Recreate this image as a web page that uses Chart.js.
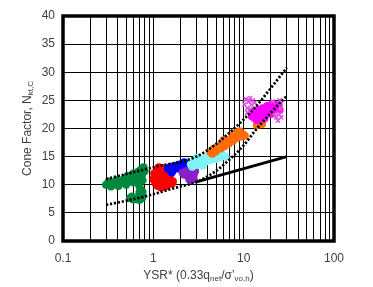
<!DOCTYPE html>
<html>
<head>
<meta charset="utf-8">
<script src="https://cdn.jsdelivr.net/npm/chart.js@4/dist/chart.umd.min.js"></script>
<style>
  html, body { margin: 0; padding: 0; background: #fff; }
  canvas { display: block; }
</style>
</head>
<body>
<canvas id="coneChart" width="373" height="287"></canvas>
<script>
// tick labels
const xLabels = [0.1, 1, 10, 100];
const yTicks = [0, 5, 10, 15, 20, 25, 30, 35, 40];

// trend lines
const upperX = [0.3, 1, 3, 5, 7.6, 10, 14, 20, 30];
const upperY = [11, 13.1, 15, 17.3, 19.8, 21.6, 24.1, 27.2, 30.8];
const lowerX = [0.3, 0.8, 1.7, 3, 4, 5, 7, 10, 13.4, 20, 30];
const lowerY = [6.4, 7.9, 9.4, 10.5, 11.5, 12.5, 14.5, 17.0, 19.6, 22.8, 25.8];
const solidX = [3, 30];
const solidY = [10.5, 15];

// measured points, [YSR*, Nkt,C]
const green = [[0.3,10.0],[0.32,10.6],[0.34,9.7],[0.36,10.3],[0.39,10.8],[0.41,9.8],[0.44,10.4],[0.47,11.0],
  [0.5,10.0],[0.53,10.6],[0.56,11.4],[0.6,10.4],[0.62,11.8],[0.65,11.0],[0.68,12.3],[0.7,11.4],[0.73,12.7],
  [0.75,11.8],[0.78,13.1],[0.8,12.4],[0.6,12.0],[0.52,11.6],[0.7,10.6],[0.76,10.8],
  [0.7,9.8],[0.72,9.2],[0.7,8.6],[0.74,8.1],[0.76,8.7],[0.72,7.6],
  [0.55,7.6],[0.6,7.4],[0.65,7.5],[0.7,7.3],[0.75,7.6],[0.58,7.9]];
const red = [[1.0,11.0],[1.02,12.0],[1.05,10.3],[1.08,11.6],[1.1,12.5],[1.12,9.8],[1.15,11.0],[1.18,12.2],
  [1.2,10.2],[1.22,9.5],[1.25,11.6],[1.28,12.6],[1.3,10.6],[1.32,9.7],[1.35,11.5],[1.38,12.0],[1.42,10.4],
  [1.45,11.2],[1.5,10.6],[1.55,11.0],[1.6,10.2],[1.65,10.6],[1.4,9.8],[1.2,12.8],[1.15,13.1],[1.3,13.0],
  [1.45,12.4],[1.97,13.5],[1.9,13.2]];
const blue = [[1.45,12.8],[1.55,13.2],[1.65,12.6],[1.75,13.4],[1.85,12.9],[1.95,13.6],[2.05,13.0],[2.15,13.5],
  [2.25,12.8],[2.35,13.3],[2.5,13.0],[2.6,12.5],[1.6,12.2],[2.2,14.0]];
const purple = [[2.1,12.2],[2.2,11.8],[2.3,12.4],[2.4,11.6],[2.5,12.1],[2.6,11.4],[2.7,12.3],[2.8,11.8],
  [2.9,12.4],[2.6,10.9],[2.8,11.0],[2.5,11.0]];
const cyan = [[2.6,13.6],[2.8,14.2],[3.0,13.5],[3.2,14.4],[3.4,13.8],[3.6,14.6],[3.8,14.1],[4.0,14.9],
  [4.3,14.4],[4.6,15.1],[4.9,14.6],[5.2,15.3],[5.5,14.9],[5.9,15.3],[6.3,15.0],[3.0,14.8],[3.5,13.4],[2.7,13.2]];
const orange = [[4.3,15.8],[4.6,16.3],[4.9,15.9],[5.2,16.8],[5.5,16.4],[5.8,17.2],[6.1,16.8],[6.4,17.7],
  [6.8,17.3],[7.2,18.2],[7.6,17.8],[8.0,18.7],[8.4,18.3],[8.8,19.1],[9.3,18.6],[9.8,19.0],[10.3,18.7],
  [7.8,19.1],[9.0,19.5],[6.0,17.9],[5.0,16.6],[4.5,15.5],
  [14,20.6],[15,21.3],[16,20.8],[14.5,21.6]];
const magenta = [[12.3,22.2],[12.8,23.0],[13.3,21.8],[13.8,22.6],[14.4,23.3],[15,22.1],[15.6,22.9],[16.2,23.6],
  [16.8,22.5],[17.5,23.3],[18.2,24.0],[19,23.0],[19.8,23.8],[20.6,24.3],[21.5,23.4],[22.4,24.2],[23.3,23.6],
  [24.2,24.1],[25,23.3],[14,21.5],[17,21.8],[20,22.6]];
const pink = [[10.2,24.3],[10.6,25.2],[11,23.6],[11.4,24.8],[11.8,25.4],[12.2,24.2],[12.6,25.0],[11,22.8],
  [11.8,23.4],[13.2,24.6],[23,22.0],[24.5,22.6],[25.5,23.5],[26,24.4],[25,25.0],[22,22.3],[21,24.8],
  [26,22.0],[24,21.4]];

// log grid: 1..9 in each decade
const xGrid = [];
for (let e = -1; e < 2; e++) {
  for (let m = 1; m < 10; m++) xGrid.push(+(m * Math.pow(10, e)).toPrecision(3));
}
xGrid.push(100);

const toPts = (xs, ys) => xs.map((x, i) => ({x: x, y: ys[i]}));
const pairs = arr => arr.map(p => ({x: p[0], y: p[1]}));

function lineSet(data, dotted) {
  return {
    data: data, showLine: true, pointRadius: 0, borderColor: '#000',
    borderWidth: dotted ? 2.7 : 2.8, borderDash: dotted ? [2.2, 1.8] : [],
    cubicInterpolationMode: 'monotone', fill: false
  };
}
function cloud(data, color) {
  return { data: data, pointRadius: 4, pointBackgroundColor: color, pointBorderWidth: 0, showLine: false };
}

function drawRich(ctx, parts, x, y) {
  const big = '12px "Liberation Sans", Arial, sans-serif';
  const small = '8px "Liberation Sans", Arial, sans-serif';
  let w = 0;
  parts.forEach(p => { ctx.font = p.sub ? small : big; w += ctx.measureText(p.t).width; });
  let cx = x - w / 2;
  parts.forEach(p => {
    ctx.font = p.sub ? small : big;
    ctx.fillText(p.t, cx, p.sub ? y + 3 : y);
    cx += ctx.measureText(p.t).width;
  });
}

const framePlugin = {
  id: 'frame',
  afterDraw(chart) {
    const ctx = chart.ctx, a = chart.chartArea;
    ctx.save();
    ctx.strokeStyle = '#000';
    ctx.lineWidth = 3.5;
    ctx.strokeRect(a.left, a.top, a.right - a.left, a.bottom - a.top);
    ctx.fillStyle = '#404040';
    ctx.textBaseline = 'middle';
    ctx.textAlign = 'left';
    drawRich(ctx, [{t: 'YSR* (0.33q'}, {t: 'net', sub: true}, {t: '/σ’'}, {t: 'vo,h', sub: true}, {t: ')'}],
      (a.left + a.right) / 2, 276);
    ctx.translate(28, (a.top + a.bottom) / 2);
    ctx.rotate(-Math.PI / 2);
    drawRich(ctx, [{t: 'Cone Factor, N'}, {t: 'kt,C', sub: true}], 0, 0);
    ctx.restore();
  }
};

new Chart(document.getElementById('coneChart'), {
  type: 'scatter',
  data: {
    datasets: [
      lineSet(toPts(upperX, upperY), true),
      lineSet(toPts(lowerX, lowerY), true),
      lineSet(toPts(solidX, solidY), false),
      { data: pairs(pink), pointStyle: 'crossRot', pointRadius: 3, pointBorderColor: '#e050e0',
        pointBorderWidth: 1.5, showLine: false },
      cloud(pairs(magenta), '#ff00ff'),
      cloud(pairs(orange), '#ff6c0a'),
      cloud(pairs(cyan), '#80f4f4'),
      cloud(pairs(purple), '#8a1ec8'),
      cloud(pairs(blue), '#0000ff'),
      cloud(pairs(red), '#ff0000'),
      cloud(pairs(green), '#00883c')
    ]
  },
  options: {
    responsive: false,
    animation: false,
    devicePixelRatio: 1,
    layout: { padding: { top: 16, right: 39, left: 0, bottom: 0 } },
    plugins: { legend: { display: false }, tooltip: { enabled: false } },
    scales: {
      x: {
        type: 'logarithmic', min: 0.1, max: 100,
        afterBuildTicks: s => { s.ticks = xGrid.map(v => ({value: v})); },
        afterFit: s => { s.height = 46; },
        grid: { color: '#000', lineWidth: 1, drawTicks: false },
        border: { display: false },
        ticks: {
          autoSkip: false, maxRotation: 0, padding: 10, color: '#404040',
          font: { family: '"Liberation Sans", Arial, sans-serif', size: 12 },
          callback: v => xLabels.includes(v) ? String(v) : ''
        }
      },
      y: {
        min: 0, max: 40,
        afterBuildTicks: s => { s.ticks = yTicks.map(v => ({value: v})); },
        afterFit: s => { s.width = 63; },
        grid: { color: '#000', lineWidth: 1, drawTicks: false },
        border: { display: false },
        ticks: {
          padding: 8, color: '#404040',
          font: { family: '"Liberation Sans", Arial, sans-serif', size: 12 }
        }
      }
    }
  },
  plugins: [framePlugin]
});
</script>
</body>
</html>
